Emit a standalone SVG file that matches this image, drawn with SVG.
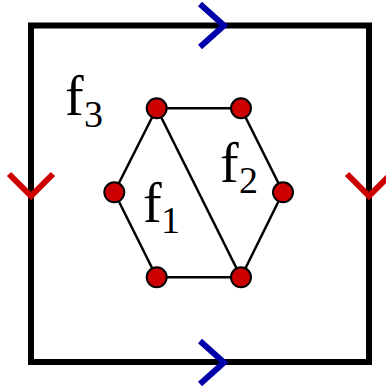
<svg xmlns="http://www.w3.org/2000/svg" width="386" height="388" viewBox="0 0 386 388">
<style>
.frame{fill:none;stroke:#000;stroke-width:6}
.blue{fill:none;stroke:#0000AA;stroke-width:6}
.red{fill:none;stroke:#CC0000;stroke-width:6}
.edge{stroke:#000;stroke-width:2.5;fill:none}
.node{fill:#CC0000;stroke:#000;stroke-width:2}
.lbl{font-family:"Liberation Serif","DejaVu Serif",serif;font-size:56px;fill:#000}
.sub{font-family:"Liberation Serif","DejaVu Serif",serif;font-size:38px}
</style>
<g id="frame">
<rect class="frame" x="31" y="25.5" width="338" height="336.5"/>
</g>
<g id="connectors">
<path class="blue" d="M200,4 L224,25.5 L200,47"/>
<path class="blue" d="M200,341 L224,362.5 L200,384"/>
<path class="red" d="M9,174 L31,196 L53,174"/>
<path class="red" d="M347,174 L369,196 L391,174"/>
<line class="edge" x1="156.7" y1="108.3" x2="241" y2="108.3"/>
<line class="edge" x1="241" y1="108.3" x2="283" y2="192.3"/>
<line class="edge" x1="283" y1="192.3" x2="241" y2="277.3"/>
<line class="edge" x1="241" y1="277.3" x2="156.7" y2="277.3"/>
<line class="edge" x1="156.7" y1="277.3" x2="114.3" y2="192.3"/>
<line class="edge" x1="114.3" y1="192.3" x2="156.7" y2="108.3"/>
<line class="edge" x1="156.7" y1="108.3" x2="241" y2="277.3"/>
</g>
<g id="n1"><circle class="node" cx="156.7" cy="108.3" r="10"/></g>
<g id="n2"><circle class="node" cx="241" cy="108.3" r="10"/></g>
<g id="n3"><circle class="node" cx="283" cy="192.3" r="10"/></g>
<g id="n4"><circle class="node" cx="241" cy="277.3" r="10"/></g>
<g id="n5"><circle class="node" cx="156.7" cy="277.3" r="10"/></g>
<g id="n6"><circle class="node" cx="114.3" cy="192.3" r="10"/></g>
<g id="f3"><text class="lbl" x="65" y="115">f</text><text class="sub" x="84" y="127">3</text></g>
<g id="f1"><text class="lbl" x="143" y="222">f</text><text class="sub" x="161" y="233">1</text></g>
<g id="f2"><text class="lbl" x="220" y="182">f</text><text class="sub" x="239" y="193">2</text></g>
</svg>
